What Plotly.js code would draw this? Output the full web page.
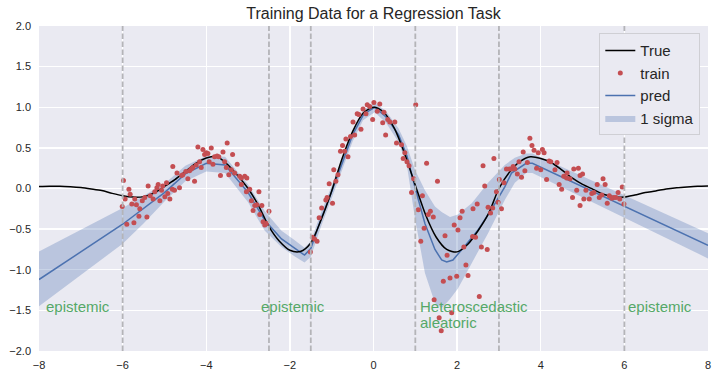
<!DOCTYPE html>
<html><head><meta charset="utf-8">
<script src="https://cdn.plot.ly/plotly-3.0.1.min.js"></script>
<style>html,body{margin:0;padding:0;background:#fff}</style>
</head><body><div id="chart" style="width:718px;height:378px"></div>
<script>
// ---- data ----
const trueX = [-8,-7.75,-7.5,-7.25,-7,-6.75,-6.5,-6.25,-6,-5.75,-5.5,-5.25,-5,-4.75,-4.5,-4.25,-4,-3.75,-3.5,-3.25,-3,-2.75,-2.5,-2.25,-2,-1.75,-1.5,-1.25,-1,-0.75,-0.5,-0.25,0,0.25,0.5,0.75,1,1.25,1.5,1.75,2,2.25,2.5,2.75,3,3.25,3.5,3.75,4,4.25,4.5,4.75,5,5.25,5.5,5.75,6,6.25,6.5,6.75,7,7.25,7.5,7.75,8];
const trueY = [0.025,0.028,0.028,0.022,0.012,-0.005,-0.025,-0.06,-0.09,-0.106,-0.10,-0.055,0.025,0.11,0.21,0.31,0.375,0.394,0.30,0.16,0.0,-0.21,-0.47,-0.65,-0.76,-0.775,-0.67,-0.38,-0.03,0.37,0.70,0.925,1.0,0.935,0.74,0.42,0.04,-0.33,-0.60,-0.75,-0.78,-0.69,-0.52,-0.31,0.0,0.20,0.33,0.39,0.37,0.32,0.23,0.13,0.05,-0.01,-0.07,-0.10,-0.105,-0.08,-0.05,-0.03,-0.005,0.01,0.02,0.028,0.032];

const trainX = [-5.98,-5.85,-5.82,-6.01,-5.94,-5.90,-5.71,-5.78,-5.73,-5.67,-5.61,-5.59,-5.53,-5.47,-5.42,-5.39,-5.34,-5.27,-5.23,-5.18,-5.15,-5.11,-5.07,-5.04,-4.99,-4.95,-4.92,-4.87,-4.81,-4.80,-4.76,-4.70,-4.64,-4.59,-4.56,-4.49,-4.44,-4.40,-4.36,-4.32,-4.28,-4.24,-4.20,-4.16,-4.12,-4.08,-4.04,-4.00,-3.96,-3.93,-3.88,-3.84,-3.80,-3.74,-3.70,-3.66,-3.60,-3.56,-3.50,-3.52,-3.46,-3.40,-3.37,-3.32,-3.26,-3.20,-3.16,-3.08,-3.03,-3.16,-3.04,-2.96,-2.74,-2.92,-2.84,-2.88,-2.79,-2.67,-2.72,-2.50,-2.64,-2.60,-2.56,-1.51,-1.46,-1.41,-1.35,-1.30,-1.24,-1.14,-1.11,-0.98,-1.06,-0.95,-0.90,-0.85,-0.79,-0.74,-0.69,-0.66,-0.61,-0.55,-0.49,-0.45,-0.39,-0.35,-0.30,-0.25,-0.18,-0.15,-0.09,-0.02,0.01,0.09,0.15,0.22,0.25,0.29,0.34,0.39,0.51,0.55,0.67,0.71,0.75,0.80,0.85,1.01,0.91,0.96,1.07,1.13,1.17,1.21,1.27,1.31,1.36,1.43,1.45,1.53,1.57,1.67,1.71,1.76,1.83,1.87,1.93,1.99,2.02,2.07,2.12,2.16,2.21,2.26,1.62,2.37,2.44,2.53,2.58,2.72,2.38,2.48,2.62,2.66,2.74,2.80,2.85,2.88,2.94,2.98,3.01,3.06,3.12,3.18,3.25,3.30,3.34,3.38,3.44,3.48,3.54,3.58,3.62,3.68,3.74,3.79,3.84,3.90,3.94,4.00,4.04,4.08,4.14,4.20,4.24,4.34,4.39,4.44,4.50,4.55,4.62,4.63,4.70,4.76,4.79,4.86,4.90,4.94,5.00,5.03,5.08,4.94,5.16,5.22,5.27,5.35,5.40,5.46,5.49,5.54,5.59,5.64,5.70,5.75,5.80,5.85,5.89,5.95,5.99];
const trainY = [0.10,-0.01,-0.07,-0.22,-0.13,-0.44,-0.13,-0.19,-0.42,-0.20,-0.34,-0.25,-0.15,-0.11,-0.35,0.03,-0.09,-0.13,-0.04,0.01,0.05,-0.15,-0.02,0.03,-0.10,0.07,-0.06,-0.13,-0.01,0.27,-0.02,0.19,0.01,0.16,0.17,0.21,0.12,0.22,0.24,0.26,0.09,0.29,0.51,0.33,0.26,0.48,0.42,0.44,0.43,0.33,0.50,0.30,0.39,0.40,0.39,0.16,0.45,0.33,0.56,0.26,0.17,0.23,0.42,0.19,0.30,0.15,0.13,0.15,0.13,0.05,-0.04,-0.01,-0.04,-0.15,-0.21,-0.27,-0.20,-0.21,-0.32,-0.28,-0.41,-0.45,-0.43,-0.78,-0.60,-0.62,-0.65,-0.36,-0.24,-0.14,-0.11,-0.18,0.06,0.23,0.09,0.17,0.46,0.53,0.46,0.61,0.39,0.64,0.82,0.66,0.92,0.91,0.73,0.98,0.92,1.03,1.01,0.85,1.06,0.95,1.04,0.81,0.94,0.66,0.85,0.82,0.82,0.56,0.54,0.37,0.44,0.33,0.28,1.03,-0.05,0.12,-0.26,-0.65,-0.09,-0.49,0.31,-0.32,-0.28,-0.35,-1.37,0.09,-1.59,-1.14,-0.58,-0.82,-1.10,-1.53,-0.45,-1.08,-0.51,-0.36,-0.28,-0.72,-0.94,-1.07,-1.75,-0.59,-0.60,-1.33,-0.72,-0.75,-0.25,-0.19,0.28,0.03,-0.23,-0.30,-0.24,0.37,-0.04,-0.17,0.11,-0.25,0.07,0.24,0.24,0.24,0.27,0.24,0.18,0.33,0.14,0.45,0.22,0.32,0.62,0.53,0.47,0.25,0.44,0.23,0.48,0.44,0.11,0.34,0.33,0.23,0.32,0.05,-0.01,0.15,0.13,0.19,0.12,-0.11,0.24,-0.02,0.25,0.16,0.18,-0.13,-0.02,-0.21,-0.13,-0.06,-0.05,0.05,-0.11,-0.08,0.12,0.05,-0.18,-0.09,-0.12,-0.11,-0.11,-0.05,-0.13,0.02,-0.19];

const predX = [-8,-6,-5,-4.5,-4.0,-3.55,-3.0,-2.6,-2.2,-2.0,-1.8,-1.65,-1.5,-1.25,-1.0,-0.75,-0.5,-0.25,-0.1,0.03,0.3,0.6,0.8,1.0,1.23,1.47,1.63,1.75,1.9,2.18,2.5,2.82,3.14,3.3,3.65,3.8,8];
const predY = [-1.12,-0.44,-0.05,0.18,0.31,0.29,-0.05,-0.39,-0.62,-0.69,-0.77,-0.82,-0.74,-0.37,-0.04,0.31,0.66,0.90,0.96,1.0,0.88,0.66,0.40,0.0,-0.43,-0.75,-0.88,-0.905,-0.88,-0.71,-0.51,-0.26,0.02,0.19,0.31,0.31,-0.70];

const bandX  = [-8,-6,-5.5,-5,-4.5,-4.0,-3.55,-3.0,-2.6,-2.2,-1.9,-1.65,-1.5,-1.25,-1.0,-0.75,-0.5,-0.25,0.03,0.3,0.6,0.8,0.99,1.23,1.47,1.63,1.83,2.02,2.35,2.74,3.14,3.38,3.65,3.8,8];
const bandHi = [-0.775,-0.24,-0.09,0.06,0.28,0.40,0.39,0.05,-0.28,-0.52,-0.63,-0.73,-0.65,-0.29,0.03,0.38,0.72,0.96,1.06,0.95,0.74,0.52,0.23,-0.02,-0.22,-0.29,-0.35,-0.32,-0.18,0.07,0.29,0.38,0.43,0.43,-0.55];
const bandLo = [-1.45,-0.68,-0.43,-0.16,0.09,0.21,0.19,-0.17,-0.52,-0.72,-0.83,-0.91,-0.84,-0.46,-0.12,0.23,0.58,0.84,0.94,0.81,0.57,0.28,-0.36,-1.04,-1.41,-1.47,-1.36,-1.23,-0.92,-0.55,-0.14,0.07,0.19,0.19,-0.86];

const vlineX = [-6,-2.5,-1.5,1,3,6];
const annX = [-7.87,-2.75,1.07,1.07,6.05];
const annY = [-1.32,-1.32,-1.32,-1.52,-1.32];
const annText = ['epistemic','epistemic','Heteroscedastic','aleatoric','epistemic'];

const xTicks = [-8,-6,-4,-2,0,2,4,6,8];
const yTicks = [-2,-1.5,-1,-0.5,0,0.5,1,1.5,2];

// ---- styles ----
const BLUE = '#4c72b0', RED = '#c44e52', GREEN = '#55a868', TXT = '#262626';
const FONT = 'Liberation Sans, Arial, Helvetica, sans-serif';

const traces = [
  {x: bandX, y: bandLo, mode: 'lines', line: {width: 0, color: BLUE}, showlegend: false, hoverinfo: 'skip'},
  {x: bandX, y: bandHi, mode: 'lines', fill: 'tonexty', fillcolor: 'rgba(76,114,176,0.3)',
   line: {width: 0, color: BLUE}, name: '1 sigma', legendrank: 4},
  {x: predX, y: predY, mode: 'lines', line: {color: BLUE, width: 1.5}, name: 'pred', legendrank: 3},
  {x: trueX, y: trueY, mode: 'lines', line: {color: '#000000', width: 1.5, shape: 'spline', smoothing: 0.8}, name: 'True', legendrank: 1},
  {x: trainX, y: trainY, mode: 'markers', marker: {color: RED, size: 5}, name: 'train', legendrank: 2}
];

const shapes = vlineX.map(v => ({
  type: 'line', xref: 'x', yref: 'paper', x0: v, x1: v, y0: 0, y1: 1, layer: 'above',
  line: {color: '#b4b4b8', width: 1.8, dash: '5.5px,2.5px'}
}));

const annotations = annX.map((ax, i) => ({
  x: ax, y: annY[i], xref: 'x', yref: 'y', text: annText[i], showarrow: false,
  xanchor: 'left', yanchor: 'top', align: 'left',
  font: {family: FONT, size: 15, color: GREEN}
}));

const layout = {
  width: 718, height: 378,
  margin: {l: 39, r: 10, t: 26, b: 27},
  paper_bgcolor: '#ffffff', plot_bgcolor: '#eaeaf2',
  font: {family: FONT, color: TXT, size: 11},
  title: {text: 'Training Data for a Regression Task', font: {family: FONT, size: 16, color: TXT},
          x: 0.5, xref: 'paper', xanchor: 'center', yref: 'container', y: 1 - 13.3/378, yanchor: 'middle'},
  xaxis: {range: [-8, 8], tickvals: xTicks, showgrid: true, gridcolor: '#ffffff', gridwidth: 1.3,
          zeroline: false, showline: false, ticks: '', ticklabelstandoff: 6,
          tickfont: {size: 11, color: TXT}, fixedrange: true},
  yaxis: {range: [-2, 2], tickvals: yTicks, tickformat: '.1f', showgrid: true, gridcolor: '#ffffff', gridwidth: 1.3,
          zeroline: false, showline: false, ticks: '', ticklabelstandoff: 7,
          tickfont: {size: 11, color: TXT}, fixedrange: true},
  legend: {x: 0.9885, xanchor: 'right', y: 0.9775, yanchor: 'top', bgcolor: '#eaeaf2',
           bordercolor: '#cfcfd4', borderwidth: 1, font: {family: FONT, size: 15, color: TXT},
           traceorder: 'normal'},
  shapes: shapes,
  annotations: annotations,
  showlegend: true
};

Plotly.newPlot('chart', traces, layout, {displayModeBar: false, staticPlot: true});
</script></body></html>
